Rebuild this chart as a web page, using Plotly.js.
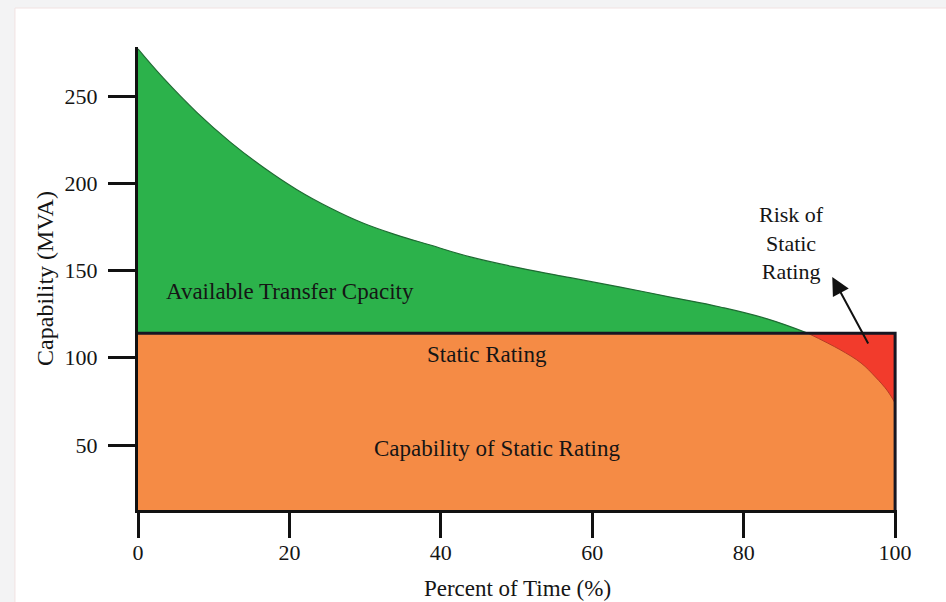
<!DOCTYPE html>
<html>
<head>
<meta charset="utf-8">
<script src="https://cdn.plot.ly/plotly-3.0.1.min.js"></script>
<style>html,body{margin:0;padding:0;background:#f3f3f4;}#chart{width:946px;height:602px;}</style>
</head>
<body>
<div id="chart"></div>
<script>
// Percent of time (%) and available capability (MVA)
const timePct   = [0, 3.3, 7.8, 12.2, 16.5, 21.0, 25.4, 29.7, 34.2, 38.6, 43.9, 50.5, 57.1, 63.7, 70.3, 76.9, 83.1, 88.5, 92.7, 95.5, 97.4, 99.0, 100];
const capability = [277, 260.5, 240.5, 223.6, 209.3, 196.3, 185.8, 177.2, 170.3, 164.6, 157.8, 151.4, 145.9, 140.5, 134.8, 129.1, 122.3, 114, 104.7, 97, 89, 81, 74];
const staticRating = 114;
const xTicks = [0, 20, 40, 60, 80, 100];
const yTicks = [50, 100, 150, 200, 250];

const FONT = 'Liberation Serif, Times New Roman, serif';
const INK = '#111111';
const TXT = '#151515';

const greenX = [], greenY = [], redX = [], redY = [];
timePct.forEach((x, i) => {
  if (capability[i] >= staticRating) { greenX.push(x); greenY.push(capability[i]); }
  if (capability[i] <= staticRating) { redX.push(x); redY.push(capability[i]); }
});
const xMin = timePct[0], xMax = timePct[timePct.length - 1];

const traces = [
  // Capability of static rating (orange box)
  {x: [xMin, xMax, xMax], y: [staticRating, staticRating, 0], mode: 'lines', fill: 'tozeroy',
   fillcolor: '#f58b45', line: {width: 0}, hoverinfo: 'skip', showlegend: false},
  // baseline for green area
  {x: greenX, y: greenX.map(() => staticRating), mode: 'lines', line: {width: 0}, hoverinfo: 'skip', showlegend: false},
  {x: greenX, y: greenY, mode: 'lines', fill: 'tonexty', fillcolor: '#2cb24b',
   line: {color: '#1f6b33', width: 1.2, shape: 'spline', smoothing: 1.2}, showlegend: false},
  // baseline for red (risk) area
  {x: redX, y: redX.map(() => staticRating), mode: 'lines', line: {width: 0}, hoverinfo: 'skip', showlegend: false},
  {x: redX, y: redY, mode: 'lines', fill: 'tonexty', fillcolor: '#f23b2c',
   line: {color: '#b83a25', width: 1, shape: 'spline', smoothing: 1}, showlegend: false},
  // static rating outline
  {x: [xMin, xMax, xMax], y: [staticRating, staticRating, 0], mode: 'lines',
   line: {color: '#161622', width: 3}, hoverinfo: 'skip', showlegend: false}
];

const layout = {
  width: 946, height: 602,
  margin: {l: 138, r: 49, t: 47, b: 92},
  paper_bgcolor: '#f3f3f4',
  plot_bgcolor: 'rgba(0,0,0,0)',
  showlegend: false,
  font: {family: FONT, color: INK, size: 22},
  xaxis: {
    range: [0, 100.25], tickvals: xTicks, ticks: 'outside', ticklen: 25, tickwidth: 3, tickcolor: INK,
    showline: true, linewidth: 3, linecolor: INK, showgrid: false, zeroline: false, automargin: false,
    tickfont: {family: FONT, size: 22, color: TXT}, ticklabelstandoff: -4,
    title: {text: 'Percent of Time (%)', font: {family: FONT, size: 23, color: TXT}, standoff: 16}
  },
  yaxis: {
    range: [12.75, 278.1], tickvals: yTicks, ticks: 'outside', ticklen: 27, tickwidth: 3, tickcolor: INK,
    showline: true, linewidth: 3, linecolor: INK, showgrid: false, zeroline: false, automargin: false,
    tickfont: {family: FONT, size: 22, color: TXT}, ticklabelstandoff: 6,
    title: {text: 'Capability (MVA)', font: {family: FONT, size: 24, color: TXT}, standoff: 5}
  },
  shapes: [
    {type: 'rect', xref: 'paper', yref: 'paper', x0: -0.1621, x1: 1.07, y0: -0.2, y1: 1.0842,
     fillcolor: '#ffffff', line: {color: '#f1e2e2', width: 1}, layer: 'below'}
  ],
  annotations: [
    {x: 20.1, y: 137.7, text: 'Available Transfer Cpacity', showarrow: false, font: {family: FONT, size: 23, color: TXT}},
    {x: 46.1, y: 102.1, text: 'Static Rating', showarrow: false, font: {family: FONT, size: 23, color: TXT}},
    {x: 47.4, y: 47.9, text: 'Capability of Static Rating', showarrow: false, font: {family: FONT, size: 23, color: TXT}},
    {x: 86.3, y: 165.8, text: 'Risk of<br>Static<br>Rating', showarrow: false, font: {family: FONT, size: 22, color: TXT}},
    {x: 91.7, y: 146.3, ax: 96.55, ay: 107.3, axref: 'x', ayref: 'y', text: '', showarrow: true,
     arrowhead: 2, arrowsize: 1.8, arrowwidth: 2, arrowcolor: INK}
  ]
};

Plotly.newPlot('chart', traces, layout, {displayModeBar: false, staticPlot: true});
</script>
</body>
</html>
